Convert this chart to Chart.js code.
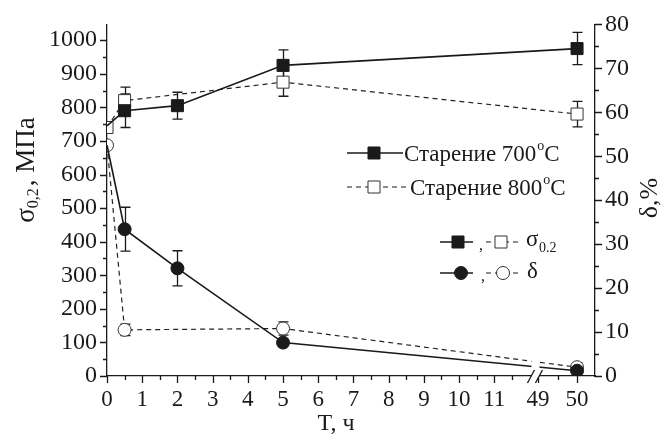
<!DOCTYPE html>
<html><head><meta charset="utf-8">
<script src="https://cdn.jsdelivr.net/npm/chart.js@4/dist/chart.umd.min.js"></script>
<style>html,body{margin:0;padding:0;background:#fff}#wrap{width:665px;height:440px;position:relative}</style>
</head><body><div id="wrap"><canvas id="c" width="665" height="440"></canvas></div>
<script>
// ---- data ----
const hours700 = [0, 0.5, 2, 5, 50];
const sigma700 = [745, 790, 805, 925, 975];
const sigma700Err = [0, 50, 40, 46, 48];
const delta700 = [52.5, 33.4, 24.5, 7.6, 1.2];
const delta700Err = [0, 5, 4, 0, 0];
const hours800 = [0, 0.5, 5, 50];
const sigma800 = [740, 820, 875, 780];
const sigma800Err = [0, 40, 42, 38];
const delta800 = [52.5, 10.5, 10.8, 2.0];
const delta800Err = [0, 1.3, 1.5, 1.0];
const xTickHours = [0,1,2,3,4,5,6,7,8,9,10,11,49,50];
const xMinorHours = [0.5,1.5,2.5,3.5,4.5,5.5,6.5,7.5,8.5,9.5,10.5,11.5,49.5];
const sigmaTicks = [0,100,200,300,400,500,600,700,800,900,1000];
const deltaTicks = [0,10,20,30,40,50,60,70,80];

// ---- broken x axis mapping ----
const BREAK_POS = 12.24, BREAK_SCALE = 1.11;
function axisPos(h){ return h <= 11.8 ? h : BREAK_POS + (h - 49) * BREAK_SCALE; }
function pts(xs, ys){ return xs.map((h,i)=>({x: axisPos(h), y: ys[i]})); }

const FONT = "'Liberation Serif','Times New Roman',serif";
const INK = '#1a1a1a';
Chart.defaults.font.family = FONT;
Chart.defaults.color = INK;

const R_SQ = 8.5, R_CI = 6.5;

const errorBars = {
  id: 'errorBars',
  beforeDatasetsDraw(chart){
    const ctx = chart.ctx, xs = chart.scales.x;
    const sets = [
      [hours700, sigma700, sigma700Err, chart.scales.y],
      [hours800, sigma800, sigma800Err, chart.scales.y],
      [hours700, delta700, delta700Err, chart.scales.y1],
      [hours800, delta800, delta800Err, chart.scales.y1]
    ];
    ctx.save(); ctx.strokeStyle = INK; ctx.lineWidth = 1.3;
    sets.forEach(([hx, v, e, ys]) => {
      hx.forEach((h,i)=>{
        if(!e[i]) return;
        const px = Math.round(xs.getPixelForValue(axisPos(h)))+0.5;
        const t = ys.getPixelForValue(v[i]+e[i]), b = ys.getPixelForValue(v[i]-e[i]);
        ctx.beginPath();
        ctx.moveTo(px,t); ctx.lineTo(px,b);
        ctx.moveTo(px-5,t); ctx.lineTo(px+5,t);
        ctx.moveTo(px-5,b); ctx.lineTo(px+5,b);
        ctx.stroke();
      });
    });
    ctx.restore();
  }
};

function marker(ctx, type, x, y, filled){
  ctx.save();
  ctx.lineWidth = 1; ctx.strokeStyle = filled ? INK : '#333'; ctx.fillStyle = filled ? INK : '#fff';
  ctx.beginPath();
  if(type==='rect'){ const s = R_SQ*Math.SQRT1_2; ctx.rect(x-s,y-s,2*s,2*s); }
  else { ctx.arc(x,y,R_CI,0,Math.PI*2); }
  ctx.fill(); ctx.stroke(); ctx.restore();
}
function sample(ctx, x1, x2, y, dashed){
  ctx.save(); ctx.strokeStyle = INK;
  ctx.lineWidth = dashed ? 1.2 : 1.6;
  if(dashed) ctx.setLineDash([5,4]);
  ctx.beginPath(); ctx.moveTo(x1,y); ctx.lineTo(x2,y); ctx.stroke(); ctx.restore();
}
function textSup(ctx, x, y, main, sup, tail, size){
  ctx.font = size+'px '+FONT; ctx.fillText(main, x, y); x += ctx.measureText(main).width;
  ctx.font = Math.round(size*0.6)+'px '+FONT; ctx.fillText(sup, x+1, y-9); x += ctx.measureText(sup).width+1;
  ctx.font = size+'px '+FONT; ctx.fillText(tail, x, y);
}

const decor = {
  id: 'decor',
  afterDraw(chart){
    const ctx = chart.ctx, a = chart.chartArea;
    const xs = chart.scales.x, ys = chart.scales.y, y1 = chart.scales.y1;
    ctx.save();
    ctx.strokeStyle = INK; ctx.lineWidth = 1.3; ctx.setLineDash([]);
    // tick marks
    ctx.beginPath();
    xTickHours.forEach(h=>{ const p=Math.round(xs.getPixelForValue(axisPos(h)))+0.5; ctx.moveTo(p,a.bottom); ctx.lineTo(p,a.bottom+7); });
    xMinorHours.forEach(h=>{ const p=Math.round(xs.getPixelForValue(axisPos(h)))+0.5; ctx.moveTo(p,a.bottom); ctx.lineTo(p,a.bottom+4); });
    sigmaTicks.forEach(v=>{ const p=Math.round(ys.getPixelForValue(v))+0.5; ctx.moveTo(a.left,p); ctx.lineTo(a.left-7,p);
      if(v<1000){ const m=Math.round(ys.getPixelForValue(v+50))+0.5; ctx.moveTo(a.left,m); ctx.lineTo(a.left-4,m);} });
    deltaTicks.forEach(v=>{ const p=Math.round(y1.getPixelForValue(v))+0.5; ctx.moveTo(a.right,p); ctx.lineTo(a.right+7,p);
      if(v<80){ const m=Math.round(y1.getPixelForValue(v+5))+0.5; ctx.moveTo(a.right,m); ctx.lineTo(a.right+4,m);} });
    ctx.stroke();
    // axis break
    const bx = xs.getPixelForValue(11.8) + 13;
    ctx.fillStyle = '#fff';
    ctx.fillRect(bx-4, a.bottom-40, 8, 41);
    ctx.beginPath();
    ctx.moveTo(bx-8, a.bottom+7); ctx.lineTo(bx-1, a.bottom-6);
    ctx.moveTo(bx, a.bottom+7); ctx.lineTo(bx+7, a.bottom-6);
    ctx.stroke();

    ctx.fillStyle = INK; ctx.textBaseline = 'middle'; ctx.textAlign = 'left';
    // legend 1
    sample(ctx, 347, 403, 153, false); marker(ctx,'rect',374,153,true);
    textSup(ctx, 404, 155, 'Старение 700', 'o', 'C', 23);
    sample(ctx, 347, 406, 187, true); marker(ctx,'rect',374,187,false);
    ctx.fillStyle = INK; textSup(ctx, 410, 189, 'Старение 800', 'o', 'C', 23);
    // legend 2
    sample(ctx, 440, 473, 242, false); marker(ctx,'rect',458,242,true);
    sample(ctx, 486, 521, 242, true); marker(ctx,'rect',501,242,false);
    ctx.fillStyle = INK;
    ctx.font = '16px '+FONT; ctx.fillText(',', 479, 246);
    ctx.font = '23px '+FONT; ctx.fillText('σ', 526, 240);
    ctx.font = '14px '+FONT; ctx.fillText('0.2', 539, 248);
    sample(ctx, 440, 473, 273, false); marker(ctx,'circle',461,273,true);
    sample(ctx, 486, 521, 273, true); marker(ctx,'circle',503,273,false);
    ctx.fillStyle = INK;
    ctx.font = '16px '+FONT; ctx.fillText(',', 481, 277);
    ctx.font = '23px '+FONT; ctx.fillText('δ', 527, 272);
    // axis titles
    ctx.textAlign = 'center';
    ctx.font = '24px '+FONT; ctx.fillText('T, ч', 336, 424);
    // left title rotated
    ctx.save(); ctx.translate(27, 170); ctx.rotate(-Math.PI/2);
    ctx.textAlign = 'left';
    const parts = [['σ',27,0],['0,2',16,7],[', МПа',27,0]];
    ctx.font = '27px '+FONT; let w = ctx.measureText('σ').width + ctx.measureText(', МПа').width;
    ctx.font = '16px '+FONT; w += ctx.measureText('0,2').width + 2;
    let x = -w/2;
    parts.forEach(([t,s,dy])=>{ ctx.font = s+'px '+FONT; ctx.fillText(t, x, dy); x += ctx.measureText(t).width + (dy?2:0); });
    ctx.restore();
    // right title
    ctx.save(); ctx.translate(650, 198); ctx.rotate(-Math.PI/2);
    ctx.textAlign = 'center'; ctx.font = '26px '+FONT; ctx.fillText('δ,%', 0, 0);
    ctx.restore();
    ctx.restore();
  }
};

new Chart(document.getElementById('c'), {
  type: 'scatter',
  data: { datasets: [
    { label: 'σ0,2 700', data: pts(hours700, sigma700), yAxisID: 'y', showLine: true,
      borderColor: INK, borderWidth: 1.6, pointStyle: 'rect', pointRadius: [0,R_SQ,R_SQ,R_SQ,R_SQ],
      pointBackgroundColor: INK, pointBorderColor: INK, pointBorderWidth: 1, order: 1 },
    { label: 'σ0,2 800', data: pts(hours800, sigma800), yAxisID: 'y', showLine: true,
      borderColor: '#222', borderWidth: 1.2, borderDash: [5,4], pointStyle: 'rect', pointRadius: R_SQ,
      pointBackgroundColor: '#fff', pointBorderColor: '#333', pointBorderWidth: 1, order: 2 },
    { label: 'δ 700', data: pts(hours700, delta700), yAxisID: 'y1', showLine: true,
      borderColor: INK, borderWidth: 1.6, pointStyle: 'circle', pointRadius: [0,R_CI,R_CI,R_CI,R_CI],
      pointBackgroundColor: INK, pointBorderColor: INK, pointBorderWidth: 1, order: 1 },
    { label: 'δ 800', data: pts(hours800, delta800), yAxisID: 'y1', showLine: true,
      borderColor: '#222', borderWidth: 1.2, borderDash: [5,4], pointStyle: 'circle', pointRadius: R_CI,
      pointBackgroundColor: '#fff', pointBorderColor: '#333', pointBorderWidth: 1, order: 2 }
  ]},
  options: {
    responsive: false, animation: false, devicePixelRatio: 1,
    layout: { padding: { top: 21, left: 0, right: 0, bottom: 0 } },
    plugins: { legend: { display: false }, tooltip: { enabled: false } },
    scales: {
      x: { type: 'linear', min: 0, max: 13.86,
        afterBuildTicks: s => { s.ticks = xTickHours.map(h => ({ value: axisPos(h) })); },
        ticks: { font: { size: 23 }, padding: 10, maxRotation: 0, autoSkip: false,
          callback: (v, i) => String(xTickHours[i]) },
        grid: { display: false, drawTicks: false },
        border: { display: true, color: INK, width: 1.3 },
        afterFit: s => { s.height = 64; } },
      y: { position: 'left', min: 0, max: 1047,
        afterBuildTicks: s => { s.ticks = sigmaTicks.map(v => ({ value: v })); },
        ticks: { font: { size: 24 }, padding: 10, callback: v => String(v) },
        grid: { display: false, drawTicks: false },
        border: { display: true, color: INK, width: 1.3 },
        afterFit: s => { s.width = 107; } },
      y1: { position: 'right', min: 0, max: 80,
        afterBuildTicks: s => { s.ticks = deltaTicks.map(v => ({ value: v })); },
        ticks: { font: { size: 24 }, padding: 10, callback: v => String(v) },
        grid: { display: false, drawTicks: false },
        border: { display: true, color: INK, width: 1.3 },
        afterFit: s => { s.width = 70; } }
    }
  },
  plugins: [errorBars, decor]
});
</script></body></html>
